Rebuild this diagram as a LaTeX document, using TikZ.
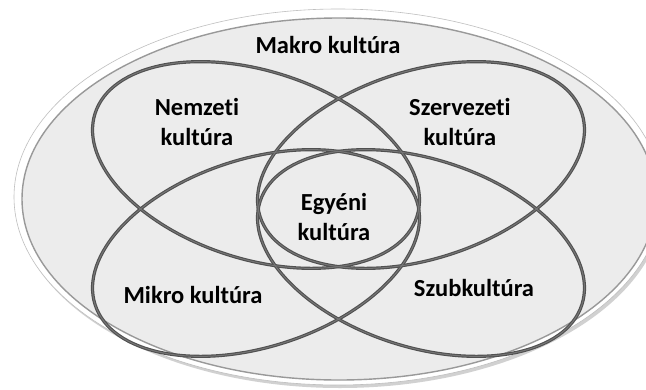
\documentclass[tikz,border=0pt]{standalone}
\usepackage{fontspec}
\setmainfont{Carlito}[Ligatures=NoCommon]
\definecolor{bg}{RGB}{236,236,236}
\definecolor{ringdark}{RGB}{80,80,80}
\definecolor{ringlight}{RGB}{118,118,118}
\tikzset{
  ring/.style={draw=ringdark, line width=3.2pt},
  ringhi/.style={draw=ringlight, line width=1.0pt},
  lbl/.style={font=\fontsize{24.5}{30}\selectfont\bfseries, align=center, inner sep=0pt, text=black}
}
\begin{document}
\begin{tikzpicture}[x=1pt,y=-1pt,line join=round]
\useasboundingbox (0,0) rectangle (646,389);
\clip (0,0) rectangle (646,389);
\fill[white] (0,0) rectangle (646,389);
% outer macro ellipse
\fill[black!18] (340,200) ellipse [x radius=324pt, y radius=188pt];
\fill[white] (338,197) ellipse [x radius=324pt, y radius=188pt];
\draw[black!25, line width=0.6pt] (338,197) ellipse [x radius=324pt, y radius=188pt];
\fill[bg] (339,199) ellipse [x radius=317pt, y radius=181pt];
\draw[black!40, line width=1.4pt] (339,199) ellipse [x radius=317pt, y radius=181pt];
% four culture ellipses
\foreach \cx/\cy/\ang in {256/165/-17.8, 421/165/17.8, 256/253/17.8, 421/253/-17.8}{
  \draw[ring, rotate around={\ang:(\cx,\cy)}] (\cx,\cy) ellipse [x radius=169pt, y radius=94pt];
}
\foreach \cx/\cy/\ang in {256/165/-17.8, 421/165/17.8, 256/253/17.8, 421/253/-17.8}{
  \draw[ringhi, rotate around={\ang:(\cx,\cy)}] (\cx,\cy) ellipse [x radius=169pt, y radius=94pt];
}
% labels
\node[lbl] (makro) at (328,45) {Makro kultúra};
\node[lbl] (nemzeti) at (197,122) {Nemzeti\\kultúra};
\node[lbl] (szervezeti) at (460,122) {Szervezeti\\kultúra};
\node[lbl] (egyeni) at (334,217) {Egyéni\\kultúra};
\node[lbl] (mikro) at (193,295) {Mikro kultúra};
\node[lbl] (szub) at (474,288) {Szubkultúra};
\end{tikzpicture}
\end{document}
